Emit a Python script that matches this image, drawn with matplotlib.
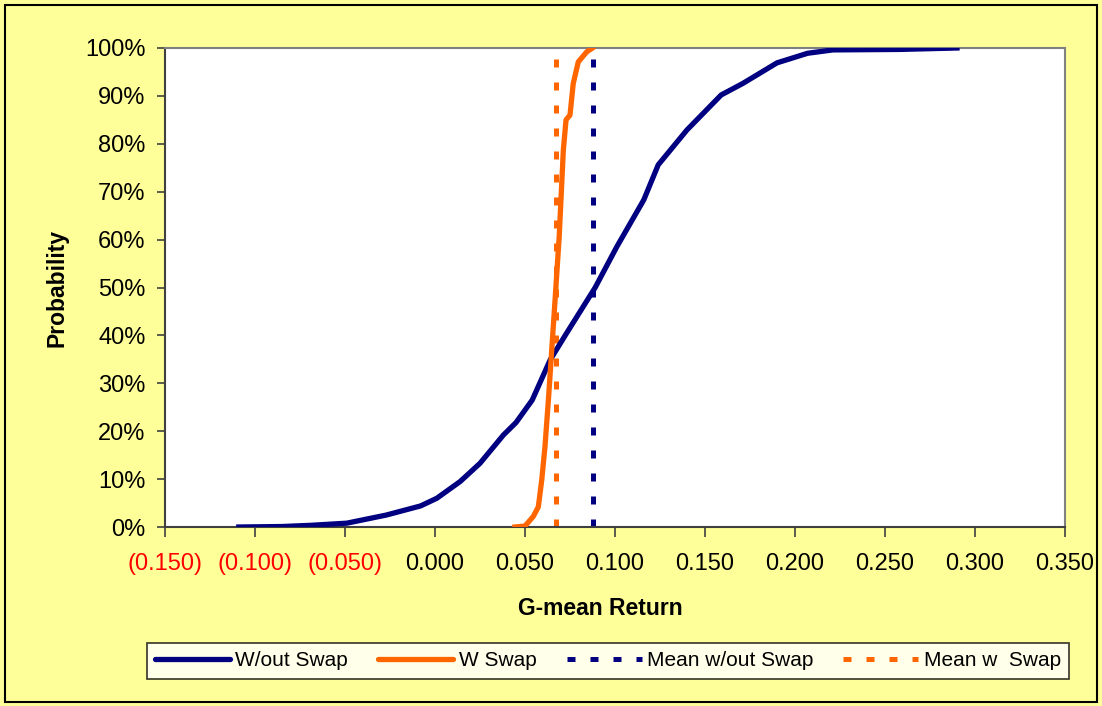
import matplotlib
matplotlib.use("Agg")
import matplotlib.pyplot as plt
from matplotlib.lines import Line2D
from matplotlib.patches import Rectangle

# ---- data ----
x_without = [-0.109, -0.085, -0.069, -0.049, -0.027, -0.008, 0.001, 0.014, 0.025, 0.038,
             0.045, 0.054, 0.064, 0.073, 0.089, 0.101, 0.116, 0.124, 0.140, 0.159,
             0.171, 0.190, 0.207, 0.221, 0.258, 0.290]
p_without = [0.0, 0.001, 0.0035, 0.008, 0.025, 0.044, 0.060, 0.095, 0.133, 0.192,
             0.218, 0.265, 0.349, 0.404, 0.500, 0.585, 0.683, 0.756, 0.829, 0.902,
             0.926, 0.969, 0.989, 0.996, 0.997, 1.0]

x_with = [0.0444, 0.050, 0.0546, 0.0574, 0.0593, 0.0611, 0.063, 0.0667, 0.069, 0.0713,
          0.0728, 0.075, 0.0768, 0.0796, 0.0843, 0.0875]
p_with = [0.0, 0.002, 0.022, 0.042, 0.098, 0.168, 0.265, 0.474, 0.606, 0.787,
          0.850, 0.860, 0.926, 0.971, 0.992, 1.0]

mean_without = 0.0877
mean_with = 0.067

x_ticks = [-0.15, -0.10, -0.05, 0.0, 0.05, 0.10, 0.15, 0.20, 0.25, 0.30, 0.35]
x_tick_labels = ["(0.150)", "(0.100)", "(0.050)", "0.000", "0.050", "0.100",
                 "0.150", "0.200", "0.250", "0.300", "0.350"]
y_ticks = [0.0, 0.1, 0.2, 0.3, 0.4, 0.5, 0.6, 0.7, 0.8, 0.9, 1.0]
y_tick_labels = ["0%", "10%", "20%", "30%", "40%", "50%", "60%", "70%", "80%", "90%", "100%"]

series_labels = ["W/out Swap", "W Swap", "Mean w/out Swap", "Mean w  Swap"]

# ---- style ----
NAVY = "#000080"
ORANGE = "#FF6600"
BG = "#FFFF99"
LW = 3.8
DOT_LW = 3.6
DOTS = (1.6, 3.0)
plt.rcParams['font.family'] = ['Liberation Sans', 'DejaVu Sans']

fig = plt.figure(figsize=(11.02, 7.06), dpi=100, facecolor=BG)
W, H = 1102, 706
ax = fig.add_axes([165 / W, (H - 527) / H, 900 / W, 479 / H])
ax.set_facecolor("white")

ax.plot(x_without, p_without, color=NAVY, lw=LW, solid_joinstyle='round', zorder=3)
ax.plot(x_with, p_with, color=ORANGE, lw=LW, solid_joinstyle='round', zorder=4)
ax.axvline(mean_without, color=NAVY, lw=DOT_LW, dashes=DOTS, zorder=2)
ax.axvline(mean_with, color=ORANGE, lw=DOT_LW, dashes=DOTS, zorder=2)

ax.set_xlim(-0.15, 0.35)
ax.set_ylim(0, 1)
ax.set_xticks(x_ticks)
ax.set_xticklabels(x_tick_labels)
ax.set_yticks(y_ticks)
ax.set_yticklabels(y_tick_labels)
for v, t in zip(x_ticks, ax.get_xticklabels()):
    t.set_color("#FF0000" if v < 0 else "black")

ax.tick_params(axis='x', direction='out', length=7, width=1.2, color='#404040',
               labelsize=17, pad=12)
ax.tick_params(axis='y', direction='out', length=6, width=1.2, color='#404040',
               labelsize=17, pad=8)

for side in ['top', 'right']:
    ax.spines[side].set_color('#808080')
    ax.spines[side].set_linewidth(1.5)
for side in ['left', 'bottom']:
    ax.spines[side].set_color('#404040')
    ax.spines[side].set_linewidth(1.5)

ax.set_xlabel("G-mean Return", fontsize=16.5, fontweight='bold')
ax.xaxis.set_label_coords(0.484, -0.146)
ax.set_ylabel("Probability", fontsize=16.5, fontweight='bold')
ax.yaxis.set_label_coords(-0.107, 0.5)

handles = [
    Line2D([0], [0], color=NAVY, lw=LW, solid_capstyle='round'),
    Line2D([0], [0], color=ORANGE, lw=LW, solid_capstyle='round'),
    Line2D([0], [0], color=NAVY, lw=DOT_LW, dashes=DOTS),
    Line2D([0], [0], color=ORANGE, lw=DOT_LW, dashes=DOTS),
]
leg = fig.legend(handles, series_labels, loc='center',
                 bbox_to_anchor=(608 / W, (H - 661) / H), ncol=4,
                 fontsize=15, frameon=True, fancybox=False, edgecolor='black',
                 handlelength=3.6, handletextpad=0.25, columnspacing=1.45,
                 borderpad=0.4, borderaxespad=0)
leg.get_frame().set_linewidth(1.2)
leg.get_frame().set_facecolor('white')

fig.patches.append(Rectangle((5 / W, 4 / H), 1092 / W, 697 / H, transform=fig.transFigure,
                             fill=False, edgecolor='black', lw=1.5))

fig.savefig("out.png", dpi=100, facecolor=BG)
